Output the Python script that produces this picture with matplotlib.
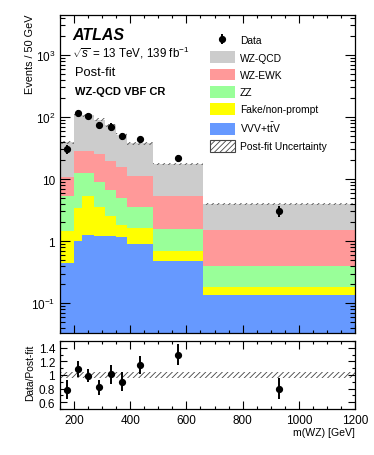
import numpy as np
import matplotlib
matplotlib.use("Agg")
import matplotlib.pyplot as plt
from matplotlib.patches import Patch
from matplotlib.ticker import MultipleLocator, LogLocator, NullFormatter, FixedLocator, FixedFormatter

plt.rcParams['font.family'] = ['Liberation Sans', 'DejaVu Sans']
plt.rcParams['mathtext.fontset'] = 'custom'
plt.rcParams['mathtext.rm'] = 'Liberation Sans'
plt.rcParams['mathtext.it'] = 'Liberation Sans:italic'
plt.rcParams['mathtext.bf'] = 'Liberation Sans:bold'
plt.rcParams['hatch.linewidth'] = 0.6

# ---------------- data ----------------
bin_edges = [150, 200, 230, 270, 310, 350, 390, 480, 660, 1200]
vvv_ttv = [0.45, 0.99, 1.23, 1.22, 1.19, 1.15, 0.90, 0.47, 0.134]
fake    = [1.01, 2.40, 4.07, 2.28, 1.39, 0.68, 0.72, 0.21, 0.048]
zz      = [3.84, 8.91, 7.00, 5.30, 4.07, 3.07, 1.98, 0.88, 0.208]
wz_ewk  = [5.30, 16.2, 16.2, 16.1, 12.85, 10.5, 7.60, 3.84, 1.13]
wz_qcd  = [28.2, 77.5, 77.5, 66.1, 54.1, 36.6, 26.2, 12.0, 2.45]
total_unc_frac = [0.05, 0.05, 0.05, 0.05, 0.05, 0.05, 0.05, 0.05, 0.05]

data_vals = [30.0, 117.0, 104.0, 75.0, 69.0, 49.0, 43.4, 21.5, 3.06]
data_errs = [5.0, 12.5, 10.5, 9.5, 10.0, 7.0, 5.0, 2.6, 0.6]

ratio_vals = [0.78, 1.09, 0.99, 0.82, 1.01, 0.90, 1.15, 1.30, 0.80]
ratio_errs = [0.14, 0.12, 0.10, 0.11, 0.14, 0.14, 0.13, 0.15, 0.15]
ratio_band = [0.95, 1.05]

labels = ["WZ-QCD", "WZ-EWK", "ZZ", "Fake/non-prompt", r"VVV+$\mathrm{t\bar{t}}$V"]
colors = ["#cccccc", "#ff9999", "#99ff99", "#ffff00", "#6699ff"]

# ---------------- figure ----------------
W, H = 374, 456
fig = plt.figure(figsize=(W / 100, H / 100), dpi=100)

def ax_rect(l, t, r, b):
    return [l / W, 1 - b / H, (r - l) / W, (b - t) / H]

ax = fig.add_axes(ax_rect(60, 16, 355, 334))
rax = fig.add_axes(ax_rect(60, 342, 355, 410))

edges = np.array(bin_edges, dtype=float)
centers = 0.5 * (edges[:-1] + edges[1:])

# stack from bottom
stack_order = [vvv_ttv, fake, zz, wz_ewk, wz_qcd]
stack_colors = colors[::-1]
base = np.full(len(centers), 1e-5)
for comp, col in zip(stack_order, stack_colors):
    top = base + np.array(comp)
    ax.stairs(top, edges, baseline=base, fill=True, color=col, linewidth=0)
    base = top
total = base

unc = np.array(total_unc_frac)
ax.stairs(total * (1 + unc), edges, baseline=total * (1 - unc), fill=True,
          facecolor='none', edgecolor='#555555', hatch='//////', linewidth=0)

data_h = ax.errorbar(centers, data_vals, yerr=data_errs, fmt='o', color='black',
                     markersize=4.2, elinewidth=1.4, capsize=0)

ax.set_yscale('log')
ax.set_xlim(150, 1200)
ax.set_ylim(0.033, 4400)

# ticks
for a in (ax, rax):
    a.tick_params(which='both', direction='in', top=True, right=True, colors='black',
                  labelsize=8.5)
    a.xaxis.set_major_locator(MultipleLocator(200))
    a.xaxis.set_minor_locator(MultipleLocator(50))
    a.tick_params(axis='x', which='major', length=5.5, width=0.8)
    a.tick_params(axis='x', which='minor', length=2.5, width=0.8)
    for s in a.spines.values():
        s.set_linewidth(0.9)
        s.set_color('black')

ax.tick_params(axis='x', labelbottom=False)
ax.yaxis.set_major_locator(FixedLocator([0.1, 1, 10, 100, 1000]))
ax.yaxis.set_major_formatter(FixedFormatter([r"$10^{-1}$", "1", "10", r"$10^{2}$", r"$10^{3}$"]))
ax.yaxis.set_minor_locator(LogLocator(base=10, subs=np.arange(2, 10), numticks=20))
ax.yaxis.set_minor_formatter(NullFormatter())
ax.tick_params(axis='y', which='major', length=7.5, width=0.8)
ax.tick_params(axis='y', which='minor', length=3.8, width=0.8)

# texts
fig.text(72 / W, 1 - 35 / H, "ATLAS", fontsize=11.5, fontweight='bold', fontstyle='italic',
         ha='left', va='center')
fig.text(72 / W, 1 - 53 / H, r"$\sqrt{s}$ = 13 TeV, 139 fb$^{-1}$", fontsize=8.4,
         ha='left', va='center')
fig.text(75 / W, 1 - 73 / H, "Post-fit", fontsize=9.3, ha='left', va='center')
fig.text(75 / W, 1 - 92 / H, "WZ-QCD VBF CR", fontsize=8.05, fontweight='bold',
         ha='left', va='center')

# legend
handles = [data_h] + [Patch(facecolor=c, edgecolor='none') for c in colors] + \
          [Patch(facecolor='white', edgecolor='#444444', hatch='//////', linewidth=0.8)]
leg_labels = ["Data"] + labels + ["Post-fit Uncertainty"]
ax.legend(handles, leg_labels, loc='upper left', bbox_to_anchor=(0.508, 0.940),
          frameon=False, fontsize=7.4, handlelength=2.45, handleheight=1.4,
          labelspacing=0.52, handletextpad=0.45, borderpad=0, borderaxespad=0)

fig.text(30 / W, 1 - 15 / H, "Events / 50 GeV", rotation=90, fontsize=7.8,
         ha='center', va='top')

# ratio panel
rax.fill_between([150, 1200], [ratio_band[0]] * 2, [ratio_band[1]] * 2,
                 facecolor='none', edgecolor='#444444', hatch='//////', linewidth=0)
rax.errorbar(centers, ratio_vals, yerr=ratio_errs, fmt='o', color='black',
             markersize=4.2, elinewidth=1.4, capsize=0)
rax.set_xlim(150, 1200)
rax.set_ylim(0.5, 1.5)
rax.yaxis.set_major_locator(FixedLocator([0.6, 0.8, 1.0, 1.2, 1.4]))
rax.yaxis.set_major_formatter(FixedFormatter(["0.6", "0.8", "1", "1.2", "1.4"]))
rax.yaxis.set_minor_locator(MultipleLocator(0.1))
rax.tick_params(axis='y', which='major', length=5, width=0.8)
rax.tick_params(axis='y', which='minor', length=2.5, width=0.8)

fig.text(30 / W, 1 - 373 / H, "Data/Post-fit", rotation=90, fontsize=7.4,
         ha='center', va='center')
fig.text(355 / W, 1 - 433 / H, "m(WZ) [GeV]", fontsize=7.6, ha='right', va='center')

fig.savefig("out.png", dpi=100)
